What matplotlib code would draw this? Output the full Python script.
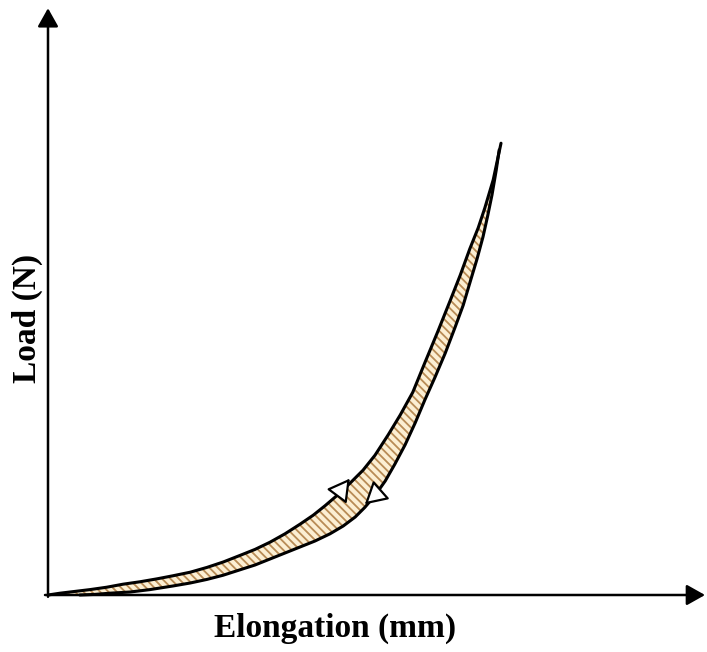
import numpy as np
import matplotlib
matplotlib.use("Agg")
import matplotlib.pyplot as plt

# -----------------------------
# Données (unités arbitraires)
# -----------------------------
# courbe de charge (branche haute)
charge_x = [0.00, 0.20, 0.45, 0.70, 0.98, 1.25, 1.53, 1.82, 2.08, 2.37, 2.65,
            2.92, 3.20, 3.45, 3.70, 3.95, 4.20, 4.42, 4.62, 4.83, 5.03, 5.25,
            5.45, 5.67, 5.87, 6.08, 6.28, 6.50, 6.70, 6.87, 7.03, 7.17, 7.28,
            7.42, 7.55]
charge_y = [0.00, 0.03, 0.06, 0.09, 0.13, 0.18, 0.22, 0.27, 0.32, 0.38, 0.46,
            0.55, 0.66, 0.76, 0.88, 1.02, 1.18, 1.33, 1.49, 1.67, 1.86, 2.08,
            2.33, 2.67, 3.00, 3.38, 3.87, 4.40, 4.90, 5.33, 5.77, 6.12, 6.45,
            6.92, 7.53]

# courbe de décharge (branche basse)
decharge_x = [0.53, 0.78, 1.03, 1.37, 1.70, 2.08, 2.37, 2.65, 2.92, 3.20, 3.45,
              3.70, 3.95, 4.20, 4.45, 4.70, 4.92, 5.12, 5.28, 5.45, 5.62, 5.78,
              5.95, 6.12, 6.28, 6.45, 6.62, 6.78, 6.92, 7.03, 7.15, 7.25, 7.33,
              7.40, 7.47, 7.52]
decharge_y = [0.00, 0.01, 0.03, 0.05, 0.09, 0.15, 0.20, 0.26, 0.33, 0.42, 0.50,
              0.60, 0.70, 0.80, 0.90, 1.02, 1.15, 1.30, 1.46, 1.66, 1.90, 2.18,
              2.50, 2.87, 3.25, 3.63, 4.03, 4.45, 4.83, 5.20, 5.60, 5.97, 6.33,
              6.67, 7.08, 7.42]

# bout des flèches des axes
x_fin = 10.95
y_fin = 9.78

# -----------------------------
# Figure
# -----------------------------
fig = plt.figure(figsize=(7.07, 6.52), dpi=100)
ax = fig.add_axes([0, 0, 1, 1])
ax.set_xlim(-0.8, 10.983)
ax.set_ylim(-0.95, 9.917)
ax.axis("off")

# zone d'hystérésis hachurée
plt.rcParams["hatch.linewidth"] = 1.3
poly_x = charge_x + decharge_x[::-1]
poly_y = charge_y + decharge_y[::-1]
ax.fill(poly_x, poly_y, facecolor="#fcefd3", edgecolor="#b88b55",
        linewidth=0, hatch="\\\\\\\\", zorder=1)

# courbes
ax.plot(charge_x, charge_y, color="black", lw=2.2, zorder=3,
        solid_capstyle="round")
ax.plot(decharge_x, decharge_y, color="black", lw=2.2, zorder=3,
        solid_capstyle="round")

# petites flèches ouvertes (sens charge / décharge)
fleche = dict(arrowstyle="-|>,head_length=0.8,head_width=0.45", fc="white",
              ec="black", lw=1.6, mutation_scale=17, shrinkA=0, shrinkB=0)
ax.annotate("", xy=(charge_x[20], charge_y[20] + 0.08),
            xytext=(charge_x[19], charge_y[19]), arrowprops=fleche, zorder=4)
ax.annotate("", xy=(decharge_x[18], decharge_y[18] + 0.05),
            xytext=(decharge_x[19], decharge_y[19]), arrowprops=fleche,
            zorder=4)

# axes avec flèches
axe = dict(arrowstyle="-|>,head_length=0.8,head_width=0.45", fc="black",
           ec="black", lw=1.8, mutation_scale=14, shrinkA=0, shrinkB=0)
ax.annotate("", xy=(0, y_fin), xytext=(0, -0.03), arrowprops=axe)
ax.annotate("", xy=(x_fin, 0), xytext=(-0.05, 0), arrowprops=axe)

# libellés
police = dict(family="Liberation Serif", weight="bold", size=24)
fig.text(27 / 707, 1 - 318 / 652, "Load (N)", rotation=90,
         ha="center", va="center", **police)
fig.text(335 / 707, 1 - 628 / 652, "Elongation (mm)",
         ha="center", va="center", **police)

fig.savefig("out.png", dpi=100)
